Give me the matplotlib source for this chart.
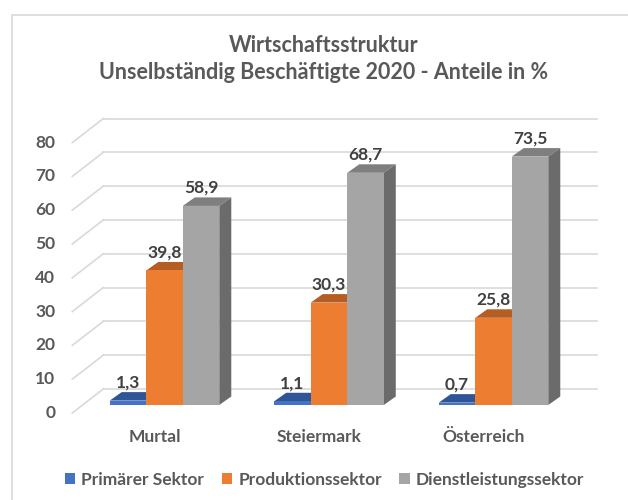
import numpy as np
import matplotlib
matplotlib.use("Agg")
import matplotlib.pyplot as plt
import matplotlib.transforms as mtransforms
from matplotlib.patches import Polygon, Patch, Rectangle

CATEGORIES = ["Murtal", "Steiermark", "Österreich"]
SERIES = ["Primärer Sektor", "Produktionssektor", "Dienstleistungssektor"]
PRIMAER = [1.3, 1.1, 0.7]
PRODUKTION = [39.8, 30.3, 25.8]
DIENSTLEISTUNG = [58.9, 68.7, 73.5]
Y_TICKS = [0, 10, 20, 30, 40, 50, 60, 70, 80]
TITLE = "Wirtschaftsstruktur\nUnselbständig Beschäftigte 2020 - Anteile in %"

# front / top / side shades per series
FACE = {
    "front": ["#4472C4", "#ED7D31", "#A5A5A5"],
    "top":   ["#2F5597", "#B55D22", "#7F7F7F"],
    "side":  ["#30528F", "#B0561C", "#6B6B6B"],
}
GRID = "#D9D9D9"
TXT = "#595959"
FONT = "Lato"

W, H, DPI = 628, 500, 100
BAR_W = 0.222
BAR_DEPTH = (12, 8.5)       # px
BACK_WALL = (21, 16)        # px, bar plane -> back wall
FRONT_WALL = (-10, -8)      # px, bar plane -> front wall

plt.rcParams["font.family"] = [FONT, "DejaVu Sans"]

fig = plt.figure(figsize=(W / DPI, H / DPI), dpi=DPI)
ax_l, ax_b, ax_w, ax_h = 82.25, 95.0, 493.5, 270.4
ax = fig.add_axes([ax_l / W, ax_b / H, ax_w / W, ax_h / H])
ax.set_xlim(-0.5, 2.5)
ax.set_ylim(0, 80)
ax.axis("off")

sx = ax_w / 3.0   # px per x unit
sy = ax_h / 80.0  # px per y unit


def d(px):
    return px[0] / sx, px[1] / sy


def shifted(px):
    return mtransforms.offset_copy(ax.transData, fig=fig, x=px[0] * 72 / DPI,
                                   y=px[1] * 72 / DPI, units="points")


# walls: back gridlines + side diagonals
bx, by = d(BACK_WALL)
fx, fy = d(FRONT_WALL)
for v in Y_TICKS:
    ax.plot([-0.5, 2.5], [v, v], color=GRID, lw=1.2,
            transform=shifted(BACK_WALL), clip_on=False, zorder=0)
    ax.plot([-0.5 + fx, -0.5 + bx], [v + fy, v + by], color=GRID, lw=1.2,
            clip_on=False, zorder=0)
    ax.text(-0.5, v, str(v), ha="right", va="center", fontsize=12.5,
            fontweight="bold", color=TXT,
            transform=shifted((FRONT_WALL[0] - 17, FRONT_WALL[1])))

# bars, left to right so each front covers the previous side face
ddx, ddy = d(BAR_DEPTH)
x = np.arange(len(CATEGORIES))
series_vals = [PRIMAER, PRODUKTION, DIENSTLEISTUNG]
z = 1
for i in range(len(CATEGORIES)):
    for s, vals in enumerate(series_vals):
        x0 = x[i] + (s - 1.5) * BAR_W
        x1 = x0 + BAR_W
        v = vals[i]
        top = Polygon([(x0, v), (x1, v), (x1 + ddx, v + ddy), (x0 + ddx, v + ddy)],
                      closed=True, facecolor=FACE["top"][s], edgecolor="none",
                      clip_on=False, zorder=z)
        side = Polygon([(x1, 0), (x1 + ddx, ddy), (x1 + ddx, v + ddy), (x1, v)],
                       closed=True, facecolor=FACE["side"][s], edgecolor="none",
                       clip_on=False, zorder=z)
        ax.add_patch(top)
        ax.add_patch(side)
        ax.bar(x0, v, width=BAR_W, align="edge", color=FACE["front"][s],
               edgecolor="none", zorder=z + 1, clip_on=False)
        ax.text(x0 + BAR_W / 2, v, f"{v:.1f}".replace(".", ","), ha="center",
                va="baseline", fontsize=12.5, fontweight="bold", color="#404040",
                transform=shifted((0, 13)), zorder=20)
        z += 2

# category labels
for i, c in enumerate(CATEGORIES):
    ax.text(x[i], 0, c, ha="center", va="center", fontsize=12.5,
            fontweight="bold", color=TXT, transform=shifted((-10, -32)))

fig.text(0.516, 1 - 59 / H, TITLE, ha="center", va="center", fontsize=15.5,
         fontweight="bold", color=TXT, linespacing=1.3)

handles = [Patch(facecolor=FACE["front"][s], edgecolor="none") for s in range(3)]
leg = fig.legend(handles, SERIES, loc="center", bbox_to_anchor=(324.5 / W, 20 / H),
                 ncol=3, frameon=False, handlelength=0.6, handleheight=0.6,
                 handletextpad=0.35, columnspacing=1.0,
                 prop={"size": 12.5, "weight": "bold"})
for t in leg.get_texts():
    t.set_color(TXT)

fig.add_artist(Rectangle((12 / W, -0.1), 1.0, 1.1 - 15 / H, fill=False,
                         edgecolor=GRID, lw=1.2, transform=fig.transFigure))

fig.savefig("out.png", dpi=DPI)
